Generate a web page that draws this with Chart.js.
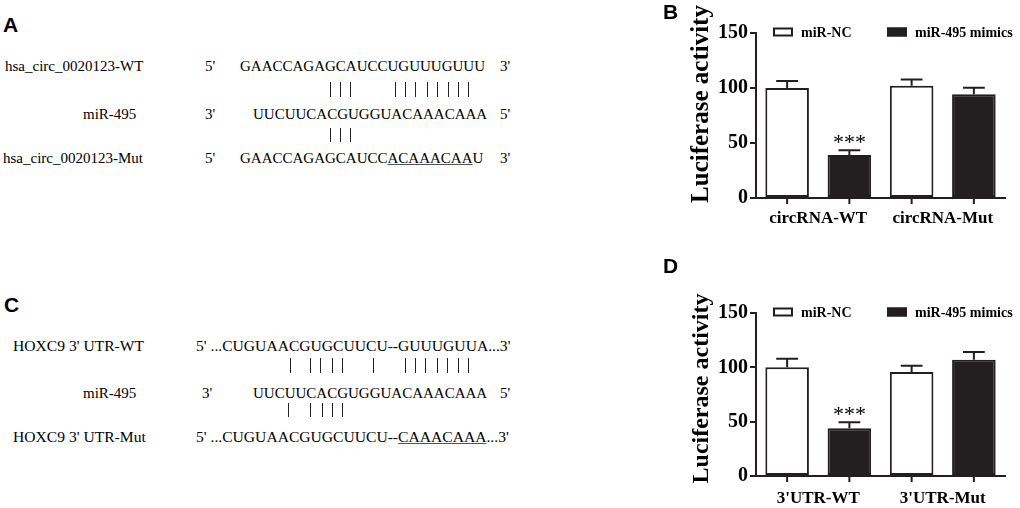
<!DOCTYPE html>
<html lang="en">
<head>
<meta charset="UTF-8">
<title>miR-495 luciferase reporter assay</title>
<script src="https://cdn.jsdelivr.net/npm/chart.js@4.4.0/dist/chart.umd.min.js"></script>
<style>
  body { margin: 0; background: #fff; }
  #fig { position: relative; width: 1020px; height: 508px; overflow: hidden;
         font-family: 'Liberation Serif', 'Times New Roman', serif; color: #000; }
  .t { position: absolute; font-size: 15px; line-height: 1; white-space: pre; }
  .t.big { font-size: 15.6px; }
  .t u { text-decoration-color: #555; }
  .pl { position: absolute; font: bold 21px 'Liberation Sans', Arial, sans-serif; line-height: 1; }
  .pair { position: absolute; width: 1px; background: #222; }
  canvas { position: absolute; }
</style>
</head>
<body>
<div id="fig">
  <canvas id="chartB" width="360" height="240" style="left:660px;top:0"></canvas>
  <canvas id="chartD" width="360" height="228" style="left:660px;top:280px"></canvas>
</div>
<script>
// --- data ---
const seriesNames = ['miR-NC', 'miR-495 mimics'];
const yTicks = [0, 50, 100, 150];

const groupsB = ['circRNA-WT', 'circRNA-Mut'];
const ncB = [100, 102];
const ncErrB = [6.4, 5.8];
const mimicsB = [39, 94.3];
const mimicsErrB = [4.5, 6];
const starsB = ['***', ''];

const groupsD = ["3'UTR-WT", "3'UTR-Mut"];
const ncD = [100, 95.6];
const ncErrD = [7.8, 5.8];
const mimicsD = [44, 107];
const mimicsErrD = [5.5, 7];
const starsD = ['***', ''];

const INK = '#231f20';
const fig = document.getElementById('fig');

// text helper: x = left edge, base = baseline
function put(x, base, html, big) {
  const el = document.createElement('div');
  el.className = big ? 't big' : 't';
  el.innerHTML = html;
  el.style.left = x + 'px';
  el.style.top = (base - (big ? 13 : 12.5)) + 'px';
  fig.appendChild(el);
}
function letter(x, capTop, s) {
  const el = document.createElement('div');
  el.className = 'pl';
  el.textContent = s;
  el.style.left = x + 'px';
  el.style.top = (capTop - 3) + 'px';
  fig.appendChild(el);
}
function pairs(xs, y1, y2) {
  xs.forEach(x => {
    const d = document.createElement('div');
    d.className = 'pair';
    d.style.left = x + 'px';
    d.style.top = y1 + 'px';
    d.style.height = (y2 - y1) + 'px';
    fig.appendChild(d);
  });
}

// panel A
letter(3, 17, 'A');
put(5, 71, 'hsa_circ_0020123-WT');
put(205, 71, "5'");
put(240, 71, 'GAACCAGAGCAUCCUGUUUGUUU');
put(500, 71, "3'");
pairs([330, 340, 350, 395, 405, 415, 427, 437, 448, 458, 468], 82, 97);
put(83, 119, 'miR-495');
put(205, 119, "3'");
put(253, 119, 'UUCUUCACGUGGUACAAACAAA');
put(500, 119, "5'");
pairs([330, 340, 350], 128, 142);
put(3, 163, 'hsa_circ_0020123-Mut');
put(205, 163, "5'");
put(240, 163, 'GAACCAGAGCAUCC<u>ACAAACAA</u>U');
put(500, 163, "3'");

// panel C
letter(4, 297, 'C');
put(13, 351, "HOXC9 3' UTR-WT", true);
put(196, 351, "5' ...CUGUAACGUGCUUCU--GUUUGUUA...3'", true);
pairs([290, 310, 320, 332, 342, 373, 405, 415, 425, 437, 447, 458, 468], 358, 373);
put(83, 398, 'miR-495');
put(202, 398, "3'");
put(253, 398, 'UUCUUCACGUGGUACAAACAAA');
put(500, 398, "5'");
pairs([288, 310, 322, 332, 342], 403, 417);
put(13, 442, "HOXC9 3' UTR-Mut", true);
put(196, 442, "5' ...CUGUAACGUGCUUCU--<u>CAAACAAA</u>...3'", true);

letter(663, 4, 'B');
letter(663, 258, 'D');

// error bars, bar ticks, stars, legend and y title
const extras = {
  id: 'figureExtras',
  afterDatasetsDraw(chart, args, opts) {
    const ctx = chart.ctx, y = chart.scales.y, area = chart.chartArea;
    ctx.save();
    ctx.strokeStyle = INK;
    ctx.lineWidth = 2;
    chart.data.datasets.forEach((ds, i) => {
      chart.getDatasetMeta(i).data.forEach((bar, j) => {
        const top = y.getPixelForValue(ds.data[j] + ds.errors[j]);
        const half = bar.width / 4;
        ctx.beginPath();
        ctx.moveTo(bar.x, bar.y);
        ctx.lineTo(bar.x, top);
        ctx.moveTo(bar.x - half, top);
        ctx.lineTo(bar.x + half, top);
        ctx.moveTo(bar.x, area.bottom);
        ctx.lineTo(bar.x, area.bottom + 6);
        ctx.stroke();
        if (ds.marks[j]) {
          ctx.fillStyle = '#000';
          ctx.font = '22px "Liberation Serif"';
          ctx.textAlign = 'center';
          ctx.textBaseline = 'alphabetic';
          ctx.fillText(ds.marks[j], bar.x, top - 1);
        }
      });
    });
    ctx.restore();
  },
  afterDraw(chart, args, opts) {
    const ctx = chart.ctx, area = chart.chartArea;
    ctx.save();
    // legend
    const ly = area.top - 1;
    const boxX = [17, 131];
    chart.data.datasets.forEach((ds, i) => {
      const bx = area.left + boxX[i];
      ctx.fillStyle = ds.backgroundColor;
      ctx.fillRect(bx, ly - 4.5, 20, 9);
      ctx.strokeStyle = INK;
      ctx.lineWidth = 2;
      ctx.strokeRect(bx + 1, ly - 3.5, 18, 7);
      ctx.fillStyle = '#000';
      ctx.font = 'bold 14px "Liberation Serif"';
      ctx.textAlign = 'left';
      ctx.textBaseline = 'middle';
      ctx.fillText(ds.label, bx + 28, ly + 1);
    });
    // y title
    ctx.translate(48, opts.titleY);
    ctx.rotate(-Math.PI / 2);
    ctx.font = 'bold ' + opts.titleSize + 'px "Liberation Serif"';
    ctx.textAlign = 'center';
    ctx.textBaseline = 'alphabetic';
    ctx.fillText('Luciferase activity', 0, 0);
    ctx.restore();
  }
};

function luciferaseChart(id, groups, nc, ncErr, mim, mimErr, stars, o) {
  return new Chart(document.getElementById(id), {
    type: 'bar',
    data: {
      labels: groups,
      datasets: [
        { label: seriesNames[0], data: nc, errors: ncErr, marks: ['', ''],
          backgroundColor: '#ffffff', borderColor: INK, borderWidth: 2, borderSkipped: false },
        { label: seriesNames[1], data: mim, errors: mimErr, marks: stars,
          backgroundColor: INK, borderColor: INK, borderWidth: 2, borderSkipped: false }
      ]
    },
    options: {
      responsive: false,
      animation: false,
      devicePixelRatio: 1,
      layout: { padding: { top: 33, right: 15, left: 0, bottom: 0 } },
      datasets: { bar: { categoryPercentage: 1, barPercentage: 0.7 } },
      plugins: {
        legend: { display: false },
        tooltip: { enabled: false },
        figureExtras: { titleY: o.titleY, titleSize: o.titleSize }
      },
      scales: {
        x: {
          grid: { display: false, drawTicks: false, tickLength: 0 },
          border: { display: true, color: INK, width: 2 },
          ticks: { color: '#000', padding: o.labelPad,
                   font: { family: 'Liberation Serif', size: 17, weight: 'bold' } },
          afterFit: s => { s.height = o.axisH; }
        },
        y: {
          min: 0, max: 150,
          afterBuildTicks: s => { s.ticks = yTicks.map(v => ({ value: v })); },
          grid: { drawOnChartArea: false, drawTicks: true, tickLength: 6, color: INK, lineWidth: 2 },
          border: { display: true, color: INK, width: 2 },
          ticks: { color: '#000', padding: 2,
                   font: { family: 'Liberation Serif', size: 20, weight: 'bold' } },
          afterFit: s => { s.width = 96; }
        }
      }
    },
    plugins: [extras]
  });
}

luciferaseChart('chartB', groupsB, ncB, ncErrB, mimicsB, mimicsErrB, starsB,
  { titleY: 104, titleSize: 25, axisH: 42, labelPad: 10 });
luciferaseChart('chartD', groupsD, ncD, ncErrD, mimicsD, mimicsErrD, starsD,
  { titleY: 108.5, titleSize: 24, axisH: 32, labelPad: 12 });
</script>
</body>
</html>
